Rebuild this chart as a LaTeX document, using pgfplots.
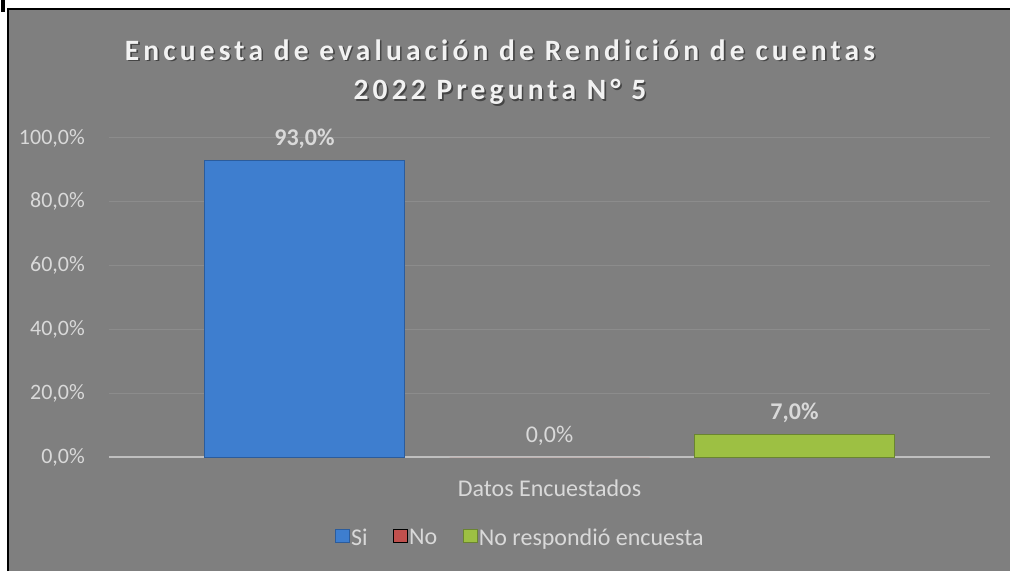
\documentclass[border=0pt]{standalone}
\usepackage{pgfplots}
\pgfplotsset{compat=1.18}
\usepackage{fontspec}
\setmainfont{Carlito}
\newfontfamily\titlefont[LetterSpace=14]{Carlito}
\definecolor{bg}{HTML}{7F7F7F}
\definecolor{txt}{HTML}{D9D9D9}
\definecolor{titlec}{HTML}{F2F2F2}
\definecolor{gridc}{HTML}{8C8C8C}
\definecolor{axisc}{HTML}{BFBFBF}
\definecolor{blueb}{HTML}{3E7ECF}
\definecolor{blueedge}{HTML}{2B5C9C}
\definecolor{redb}{HTML}{C0504D}
\definecolor{rededge}{HTML}{8C3836}
\definecolor{greenb}{HTML}{9DC043}
\definecolor{greenedge}{HTML}{6A8530}
\begin{document}
\begin{tikzpicture}
\useasboundingbox (0pt,0pt) rectangle (1010pt,571pt);
\fill[white] (0pt,0pt) rectangle (1010pt,571pt);
\fill[bg] (8pt,0pt) rectangle (1010pt,562pt);
\draw[black,line width=2pt] (8pt,0pt) -- (8pt,562pt) -- (1011pt,562pt);
\fill[black] (1pt,559pt) rectangle (5pt,571pt);
\begin{axis}[
  at={(109pt,114pt)}, anchor=south west,
  scale only axis, width=881pt, height=319pt,
  xmin=-1.798, xmax=1.798, ymin=0, ymax=100,
  ybar=45pt, bar width=200pt,
  clip=false,
  axis x line*=bottom, axis y line*=left,
  x axis line style={draw=axisc, line width=2pt},
  y axis line style={draw=none},
  major tick length=0pt,
  xtick={0}, xticklabels={Datos Encuestados},
  ytick={0,20,...,100},
  yticklabels={{0,0\%},{20,0\%},{40,0\%},{60,0\%},{80,0\%},{100,0\%}},
  tick label style={font=\fontsize{22}{26}\selectfont, text=txt},
  yticklabel style={inner sep=0pt, anchor=east, xshift=-24pt},
  xticklabel style={inner sep=0pt, anchor=center, yshift=-31pt, font=\fontsize{24}{28}\selectfont},
  ymajorgrids, grid style={draw=gridc, line width=1pt},
  /pgf/number format/assume math mode=true,
  nodes near coords={\pgfmathprintnumber[fixed,fixed zerofill,precision=1,use comma]{\pgfplotspointmeta}\%},
  every node near coord/.append style={text=txt, anchor=base, yshift=15pt, inner sep=0pt},
  legend columns=3,
  legend style={draw=none, fill=none, at={(0.4665,-0.254)}, anchor=center,
    font=\fontsize{24}{28}\selectfont, text=txt,
    /tikz/every even column/.append style={column sep=24pt},
    nodes={inner sep=1.5pt}},
  legend image code/.code={\draw[#1,line width=0.6pt] (0pt,-4pt) rectangle (14pt,9pt);},
]
\addplot[fill=blueb, draw=blueedge, line width=1pt,
  every node near coord/.append style={font=\bfseries\fontsize{24}{28}\selectfont}]
  coordinates {(0,93.0)};
\addplot[fill=redb, draw=none,
  every node near coord/.append style={font=\fontsize{24}{28}\selectfont}]
  coordinates {(0,0.0)};
\addplot[fill=greenb, draw=greenedge, line width=1pt,
  every node near coord/.append style={font=\bfseries\fontsize{24}{28}\selectfont}]
  coordinates {(0,7.0)};
\legend{Si,No,No respondió encuesta}
\end{axis}
\foreach \dx/\dy/\c/\o in {1.6pt/-1.6pt/black/0.45, 0pt/0pt/titlec/1}{
  \node[text=\c, text opacity=\o, font=\titlefont\bfseries\fontsize{29.5}{34}\selectfont, inner sep=0pt] at ([shift={(\dx,\dy)}]500pt,521pt) {Encuesta de evaluación de Rendición de cuentas};
  \node[text=\c, text opacity=\o, font=\titlefont\bfseries\fontsize{29.5}{34}\selectfont, inner sep=0pt] at ([shift={(\dx,\dy)}]500pt,479pt) {2022 Pregunta N° 5};
}
\end{tikzpicture}
\end{document}
